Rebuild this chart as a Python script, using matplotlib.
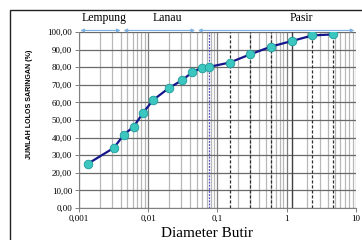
#!/usr/bin/env python3

import numpy as np
import matplotlib.pyplot as plt
from matplotlib.patches import Rectangle
from matplotlib.ticker import FixedLocator, FixedFormatter, LogLocator, NullFormatter

# grain size distribution (hydrometer + sieve)
diameter = [0.00135, 0.0032, 0.00447, 0.0062, 0.0085, 0.0118, 0.020, 0.031,
            0.0433, 0.060, 0.075, 0.15, 0.30, 0.60, 1.18, 2.36, 4.75]
passing = [25.2, 34.2, 41.7, 46.3, 54.2, 61.3, 68.2, 72.6,
           77.1, 79.8, 80.1, 82.6, 87.3, 91.7, 94.8, 98.0, 98.6]

sieves_dashed = [0.15, 0.3, 0.6, 2.36, 4.75]
sieve_solid = [1.18]
sieve_200 = 0.075

zones = ['Lempung', 'Lanau', 'Pasir']
zone_edges = [0.001, 0.0042, 0.05, 10]
zone_label_x = [0.0023, 0.019, 1.65]

yticks = [0, 10, 20, 30, 40, 50, 60, 70, 80, 90, 100]
xticks = [0.001, 0.01, 0.1, 1, 10]
xlabels = ['0,001', '0,01', '0,1', '1', '10']

serif = 'Liberation Serif'

fig = plt.figure(figsize=(3.62, 2.40), dpi=100)
ax = fig.add_axes([0.218, 0.133, 0.765, 0.734])

ax.set_xscale('log')
ax.set_xlim(0.001, 10)
ax.set_ylim(0, 100)

# gridlines
ax.xaxis.set_major_locator(FixedLocator(xticks))
ax.xaxis.set_major_formatter(FixedFormatter(xlabels))
ax.xaxis.set_minor_locator(LogLocator(base=10, subs=np.arange(2, 10)))
ax.xaxis.set_minor_formatter(NullFormatter())
ax.set_yticks(yticks)
ax.set_yticklabels([('%.2f' % v).replace('.', ',') for v in yticks])
ax.grid(True, which='major', axis='x', color='#808080', lw=0.9)
ax.grid(True, which='minor', axis='x', color='#b8b8b8', lw=0.9)
ax.grid(True, which='major', axis='y', color='#6a6a6a', lw=0.9)
ax.tick_params(which='minor', length=0)
ax.tick_params(which='major', length=3, width=0.7, color='#808080', labelsize=6.5, pad=2)
for lab in ax.get_xticklabels() + ax.get_yticklabels():
    lab.set_family(serif)

for s in ['top', 'right']:
    ax.spines[s].set_visible(False)
for s in ['left', 'bottom']:
    ax.spines[s].set_color('#808080')
    ax.spines[s].set_linewidth(0.8)

# sieve lines
for d in sieves_dashed:
    ax.axvline(d, color='#303030', lw=0.9, ls=(0, (2.5, 1.5)))
for d in sieve_solid:
    ax.axvline(d, color='#404040', lw=1.0)
ax.axvline(sieve_200, color='#5050c0', lw=0.9, ls=(0, (1.5, 1.0)))

ax.plot(diameter, passing, color='#15158c', lw=1.6, marker='o', ms=6.2,
        mfc='#3cc6c0', mec='#1f9a9a', mew=0.6, zorder=5)

# soil zone arrows
for i, name in enumerate(zones):
    ax.annotate('', xy=(zone_edges[i], 100.8), xytext=(zone_edges[i + 1], 100.8),
                arrowprops=dict(arrowstyle='<|-|>', color='#7fb0e0', lw=0.9,
                                mutation_scale=5, shrinkA=1, shrinkB=1),
                annotation_clip=False)
    ax.text(zone_label_x[i], 104.5, name, family=serif, fontsize=8.5,
            ha='center', va='bottom')

ax.set_xlabel('Diameter Butir', family=serif, fontsize=11)
ax.xaxis.set_label_coords(0.462, -0.142)
ax.xaxis.label.set_va('center')
ax.set_ylabel('JUMLAH LOLOS SARINGAN (%)', family='Liberation Sans', fontweight='bold',
              fontsize=5.1)
ax.yaxis.set_label_coords(-0.177, 0.59)
ax.yaxis.label.set_va('center')

# chart border
fig.patches.append(Rectangle((10 / 362, -0.1), 1.1, 1 - 10 / 240 + 0.1,
                             transform=fig.transFigure, fill=False,
                             ec='#222222', lw=1.0))

fig.savefig('out.png', dpi=100)
